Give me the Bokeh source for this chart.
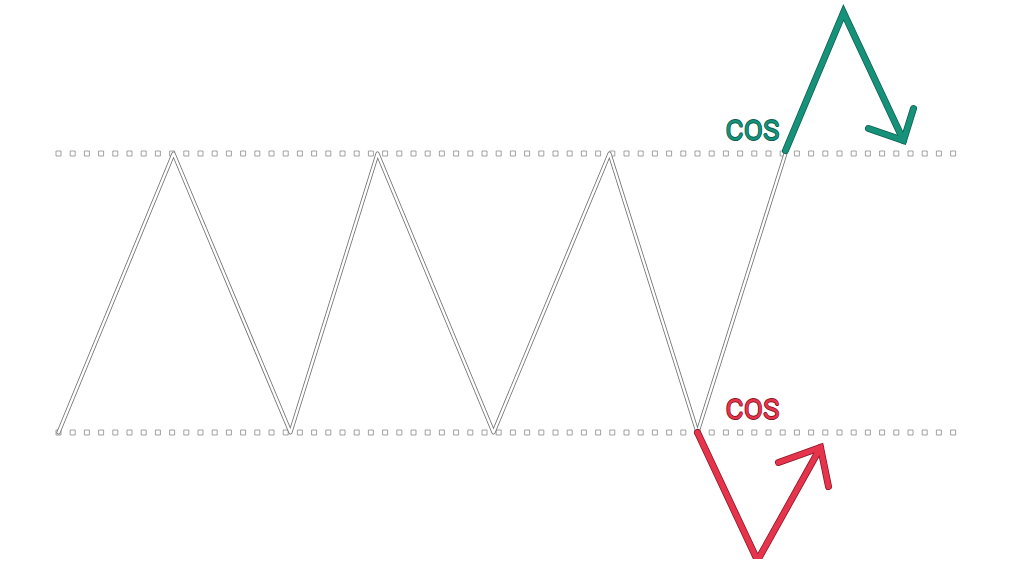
import numpy as np
from bokeh.plotting import figure
from bokeh.models import Range1d
from bokeh.core.properties import value
from bokeh.embed import file_html
from bokeh.resources import INLINE

# zigzag inside the range (x, level)
range_x = [58, 173, 290, 377, 493, 609, 697, 785]
range_y = [432, 153, 432, 153, 432, 153, 432, 153]

resistance = 153
support = 432
level_start = 58
level_end = 958

# breakout above (green) and breakdown below (red)
up_x = [785, 843, 903]
up_y = [150, 12, 140]
up_head_x = [868, 903, 913]
up_head_y = [128, 140, 108]

down_x = [697, 757, 820]
down_y = [432, 560, 447]
down_head_x = [778, 820, 828]
down_head_y = [462, 447, 486]

labels = ["COS", "COS"]
label_x = [752, 752]
label_y = [130, 409]

GREEN = "#16917a"
GREEN_DARK = "#0b5e4d"
RED = "#e5344c"
RED_DARK = "#8a1424"

p = figure(width=1008, height=559, output_backend="svg", toolbar_location=None,
           x_range=Range1d(0, 1008), y_range=Range1d(559, 0), min_border=0)
p.axis.visible = False
p.grid.visible = False
p.outline_line_color = None
p.background_fill_color = "white"

# dotted support / resistance levels
dots = np.arange(level_start, level_end + 1, 14.2)
for lvl in [resistance, support]:
    p.scatter(dots, [lvl] * len(dots), marker="square", size=5,
              fill_color="white", line_color="#8a8a8a", line_width=0.8)

# outlined white zigzag
p.line(range_x, range_y, line_color="#6e6e6e", line_width=4, line_cap="round", line_join="round")
p.line(range_x, range_y, line_color="white", line_width=2.4, line_cap="round", line_join="round")

# coloured moves
for xs, ys, hx, hy, c, d in [(up_x, up_y, up_head_x, up_head_y, GREEN, GREEN_DARK),
                             (down_x, down_y, down_head_x, down_head_y, RED, RED_DARK)]:
    p.line(xs, ys, line_color=d, line_width=7, line_join="miter", line_cap="round")
    p.line(hx, hy, line_color=d, line_width=7, line_join="miter", line_cap="round")
    p.line(xs, ys, line_color=c, line_width=5.5, line_join="miter", line_cap="round")
    p.line(hx, hy, line_color=c, line_width=5.5, line_join="miter", line_cap="round")

# labels with a thin darker edge
for i, (c, d) in enumerate([(GREEN, GREEN_DARK), (RED, RED_DARK)]):
    for dx, dy in [(-0.6, 0), (0.6, 0), (0, -0.6), (0, 0.6)]:
        p.text([label_x[i] + dx], [label_y[i] + dy], text=[labels[i]], text_color=d,
               text_font=value("Roboto"), text_font_style="normal", text_font_size="28px",
               text_align="center", text_baseline="middle")
    p.text([label_x[i]], [label_y[i]], text=[labels[i]], text_color=c,
           text_font=value("Roboto"), text_font_style="normal", text_font_size="28px",
           text_align="center", text_baseline="middle")

open("out.html", "w").write(file_html(p, INLINE))
